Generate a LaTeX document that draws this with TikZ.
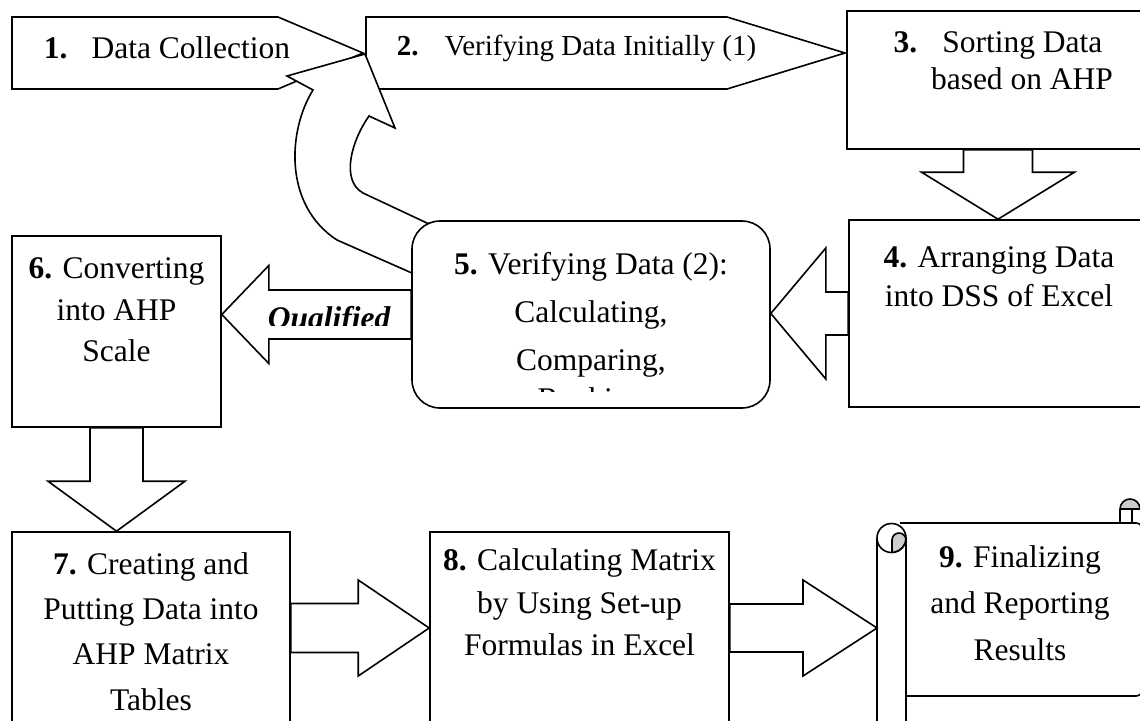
\documentclass[tikz,border=0pt]{standalone}
\usepackage{fontspec}
\setmainfont{Liberation Serif}
\usetikzlibrary{calc}

\begin{document}
\begin{tikzpicture}[x=1pt, y=-1pt, line width=1.6pt,
    box/.style={draw, fill=white, inner sep=0pt},
    txt/.style={align=center, inner sep=0pt, font=\fontsize{31.5}{#1}\selectfont},
    txt/.default=42,
    blk/.style n args={3}{to path={
      -- ($(\tikztostart)!#1!90:(\tikztotarget)$)
      -- ($(\tikztotarget)!#3!(\tikztostart)!#1!-90:(\tikztostart)$)
      -- ($(\tikztotarget)!#3!(\tikztostart)!#2!-90:(\tikztostart)$)
      -- (\tikztotarget)
      -- ($(\tikztotarget)!#3!(\tikztostart)!#2!90:(\tikztostart)$)
      -- ($(\tikztotarget)!#3!(\tikztostart)!#1!90:(\tikztostart)$)
      -- ($(\tikztostart)!#1!-90:(\tikztotarget)$)
      -- cycle}}]
        \useasboundingbox (0,0) rectangle (1140,720);
        \clip (0,0) rectangle (1140,720);
        % top row, pointed boxes
        \filldraw[fill=white] (12,17) -- (278,17) -- (363,53) -- (278,89) -- (12,89) -- cycle;
        \filldraw[fill=white] (366,17) -- (727,17) -- (845,53) -- (727,89) -- (366,89) -- cycle;
        \node[txt, anchor=base] (t1) at (167,58) {\textbf{1.}\hspace{24pt}Data Collection};
        \node[txt, anchor=base, font=\fontsize{29}{35}\selectfont] (t2) at (576.5,55)
          {\textbf{2.}\hspace{26pt}Verifying Data Initially (1)};
        \foreach \n/\x/\y/\w/\h in {b3/998/80/302/138, b4/998/313.5/298/187,
            b6/116.5/331.5/209/191, b7/151/628/278/192, b8/579.5/628/299/192}
          \node[box, minimum width=\w pt, minimum height=\h pt] (\n) at (\x,\y) {};
        % loop back to step 2
        \filldraw[fill=white] (444,231) -- (363,193) .. controls (340,180) and (352,140) .. (369,116)
          -- (395,128) -- (365,54) -- (287,76) -- (313,90)
          .. controls (288,130) and (283,205) .. (337,240) -- (430,281) -- cycle;
        \node[box, rounded corners=28pt, minimum width=358pt, minimum height=187pt] (b5) at (591,314.5) {};
        % scroll for step 9
        \coordinate (s9) at (877,628);
        \draw[fill=white, rounded corners=6pt] (900,523) -- (1142,523) -- (1142,696) -- (906,696);
        \draw[fill=white] (877,730) -- (877,538) arc[start angle=180, end angle=360, radius=14.5] -- (906,730);
        \draw (906,538) arc[start angle=0, end angle=180, radius=14.5];
        \filldraw[fill=gray!40] (892,552) -- (892,540) arc[start angle=180, end angle=360, radius=7]
          -- (906,538) arc[start angle=0, end angle=80, radius=14.5] -- cycle;
        \draw (1120,523) -- (1120,509);
        \filldraw[fill=gray!40] (1120,509) arc[start angle=180, end angle=360, radius=10] -- cycle;
        \draw (1132,510) -- (1132,523);
        % block arrows
        \coordinate (c45) at (b4.west -| b5.east);
        \coordinate (c56) at (b5.west -| b6.east);
        \coordinate (c67) at (b6.south |- b7.north);
        \filldraw[fill=white, blk={34.5pt}{76.5pt}{47pt}] (b3.south) to (b4.north);
        \filldraw[fill=white, blk={21.5pt}{65.5pt}{55pt}] (b4.west) to (c45);
        \filldraw[fill=white, blk={24.5pt}{49pt}{47pt}] (b5.west) to (c56);
        \filldraw[fill=white, blk={26.5pt}{68.5pt}{50pt}] (b6.south) to (c67);
        \filldraw[fill=white, blk={24.5pt}{48pt}{71pt}] (b7.east) to (b8.west);
        \filldraw[fill=white, blk={24pt}{48pt}{74pt}] (b8.east) to (s9);
        % texts
        \node[txt=37] (t3) at (998,60.5) {\textbf{3.}\hspace{25pt}Sorting Data\\\hspace*{48pt}based on AHP};
        \node[txt=39] (t4) at (999,276.5) {\textbf{4.} Arranging Data\\into DSS of Excel};
        \begin{scope}
          \clip (412,221) rectangle (770,391);
          \node[txt=48.3] (t5) at (591,334) {\textbf{5.} Verifying Data (2):\\Calculating,\\Comparing,\\[-10pt]Ranking};
        \end{scope}
        \begin{scope}
          \clip (222,290) rectangle (412,325.5);
          \node[anchor=base, inner sep=0pt, font=\fontsize{31.5}{36}\selectfont\bfseries\itshape] (q) at (329,328) {Qualified};
        \end{scope}
        \node[txt=41.5] (t6) at (116.5,310) {\textbf{6.} Converting\\into AHP\\Scale};
        \node[txt=45.3] (t7) at (151,631.5) {\textbf{7.} Creating and\\Putting Data into\\AHP Matrix\\Tables};
        \node[txt=42.5] (t8) at (579.5,602.5) {\textbf{8.} Calculating Matrix\\by Using Set-up\\Formulas in Excel};
        \node[txt=46.5] (t9) at (1020,603) {\textbf{9.} Finalizing\\and Reporting\\Results};
\end{tikzpicture}
\end{document}
